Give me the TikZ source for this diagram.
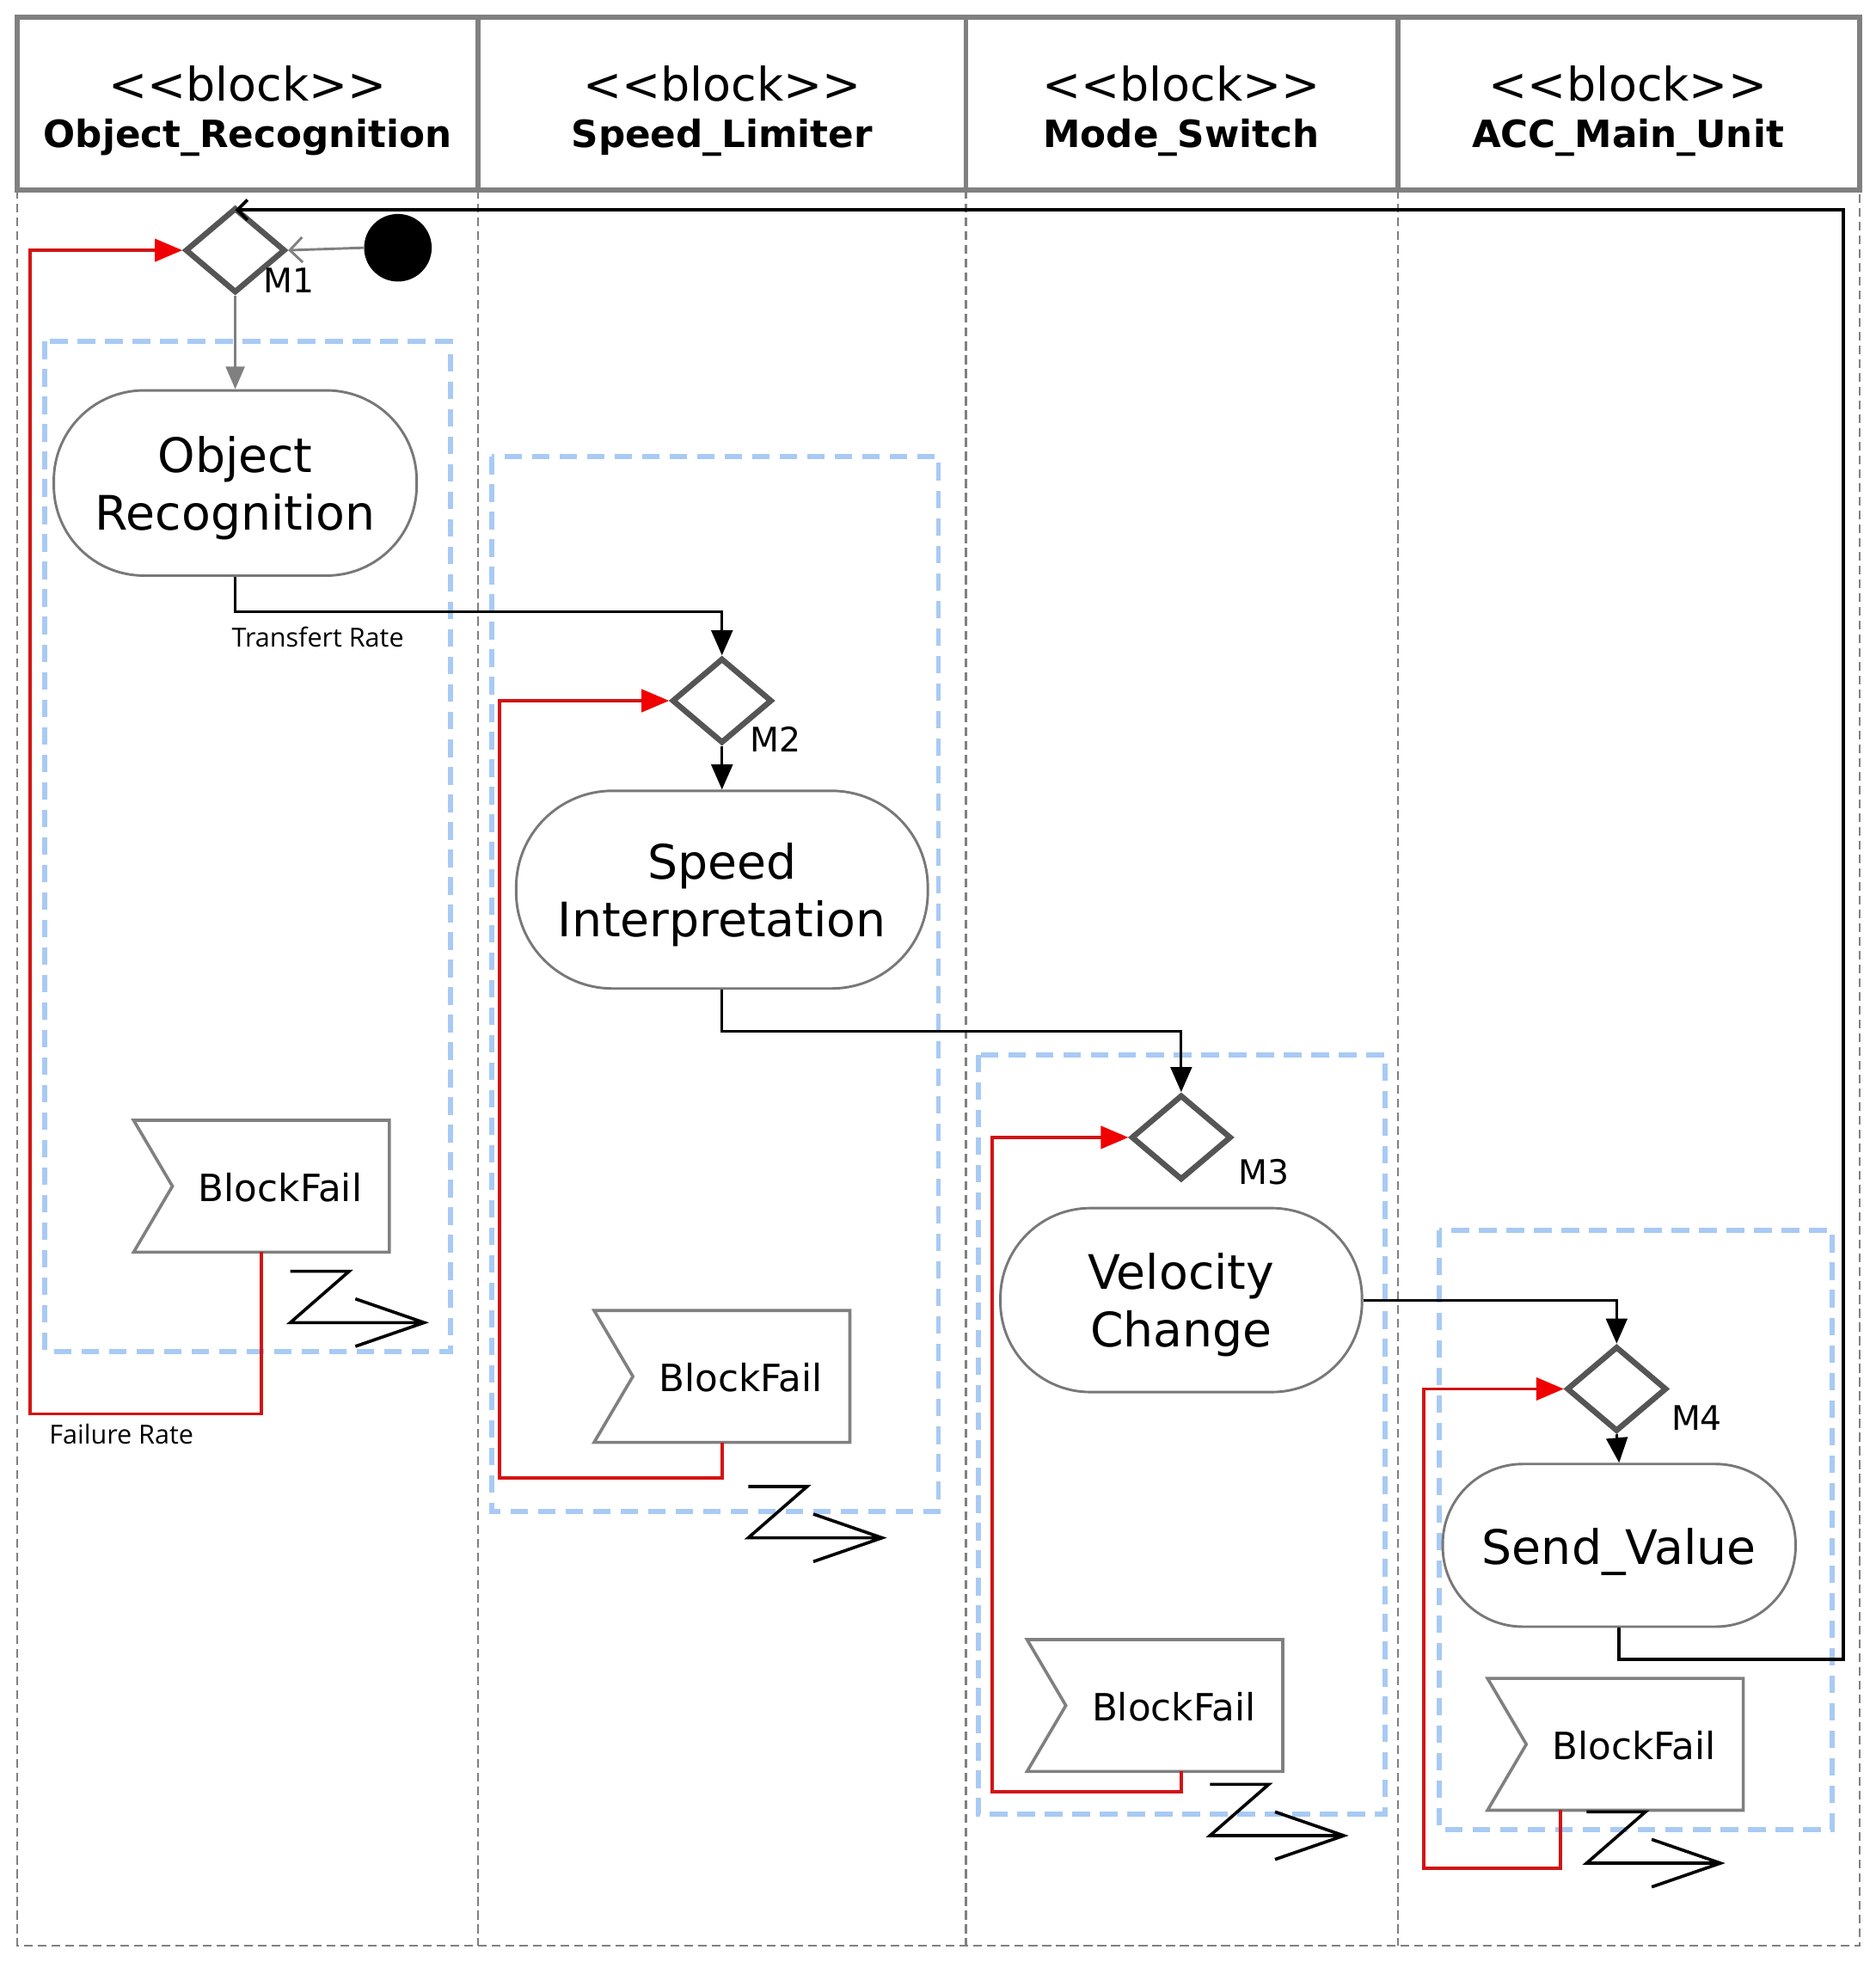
\documentclass[tikz,border=0pt]{standalone}
\usepackage{fontspec}
\setmainfont{DejaVu Sans}
\newfontfamily\lblfont{Open Sans}
\newfontfamily\stereofont{DejaVu Sans}
\usetikzlibrary{shapes.geometric,shapes.misc,arrows.meta,calc}
\definecolor{framegray}{RGB}{128,128,128}
\definecolor{diagray}{RGB}{85,85,85}
\definecolor{nodegray}{RGB}{120,120,120}
\definecolor{bluegrp}{RGB}{168,202,244}
\definecolor{failred}{RGB}{210,20,20}
\definecolor{tipred}{RGB}{240,0,0}
\newcommand{\twoline}[2]{\raisebox{-5pt}[\height][\depth]{\begin{tabular}{@{}c@{}}#1\\[-1pt]#2\end{tabular}}}
\newcommand{\lowered}[1]{\raisebox{-5pt}[\height][\depth]{#1}}
\tikzset{
  hdr/.style={draw=framegray, line width=4pt},
  laneline/.style={draw=framegray, line width=1.5pt, dash pattern=on 7pt off 4pt},
  grp/.style={draw=bluegrp, line width=4pt, dash pattern=on 14pt off 8pt},
  stereo/.style={font=\stereofont\fontsize{37}{40}\selectfont},
  bname/.style={font=\bfseries\fontsize{30}{34}\selectfont},
  act/.style={rectangle, rounded corners=#1, draw=nodegray, line width=2pt, fill=white, align=center, inner sep=0pt, font=\fontsize{38}{47}\selectfont},
  merge/.style={diamond, draw=diagray, line width=4.5pt, fill=white, minimum width=80pt, minimum height=68pt, inner sep=0pt},
  mlab/.style={font=\fontsize{27}{30}\selectfont},
  evbox/.style={rectangle, minimum width=204pt, minimum height=105pt, inner sep=0pt},
  evshape/.style={draw=framegray, line width=2.5pt, fill=white},
  evtext/.style={font=\fontsize{30}{33}\selectfont},
  smalllbl/.style={font=\lblfont\fontsize{21}{24}\selectfont},
  blk/.style={draw=black, line width=2pt, -{Triangle[length=20pt,width=17pt]}},
  gryarr/.style={draw=framegray, line width=2pt, -{Triangle[length=18pt,width=15pt]}},
  initarr/.style={draw=framegray, line width=2pt, -{Straight Barb[length=10pt,width=20pt]}},
  retline/.style={draw=black, line width=3pt, -{Straight Barb[length=8pt,width=16pt,line width=2.5pt]}},
  redline/.style={draw=failred, line width=2.5pt, -{Triangle[length=22pt,width=18pt,color=tipred]}},
  pics/zbolt/.style={code={\draw[line width=2.5pt, line join=miter] (0,0) -- (47,0) -- (0,41) -- (107,41) (52,22) -- (107,41) -- (52,60);}}
}
\begin{document}
\begin{tikzpicture}[x=1pt,y=-1pt]
\useasboundingbox (0,0) rectangle (1499,1568);
% swimlane frame
\draw[laneline] (14,152) -- (14,1555) -- (1486,1555) -- (1486,152);
\draw[laneline] (382,152) -- (382,1555);
\draw[laneline] (772,152) -- (772,1555);
\draw[laneline] (1117,152) -- (1117,1555);
\draw[hdr] (14,14) rectangle (1486,152);
\draw[hdr] (382,14) -- (382,152);
\draw[hdr] (772,14) -- (772,152);
\draw[hdr] (1117,14) -- (1117,152);
% headers
\node[stereo] (h1s) at (198,67) {<\kern0pt<block>\kern0pt>};
\node[bname] (h1n) at (198,110) {Object\_Recognition};
\node[stereo] (h2s) at (577,67) {<\kern0pt<block>\kern0pt>};
\node[bname] (h2n) at (577,110) {Speed\_Limiter};
\node[stereo] (h3s) at (944,67) {<\kern0pt<block>\kern0pt>};
\node[bname] (h3n) at (944,110) {Mode\_Switch};
\node[stereo] (h4s) at (1301,67) {<\kern0pt<block>\kern0pt>};
\node[bname] (h4n) at (1301,110) {ACC\_Main\_Unit};
% groups
\draw[grp] (36,273) rectangle (360,1080);
\draw[grp] (393,365) rectangle (750,1208);
\draw[grp] (782,843) rectangle (1107,1450);
\draw[grp] (1150,983) rectangle (1464,1462);
% merge nodes
\node[merge] (M1) at (188,200) {};
\node[merge] (M2) at (577,560) {};
\node[merge] (M3) at (944,909) {};
\node[merge] (M4) at (1292,1110) {};
\node[mlab] (M1l) at (231,224) {M1};
\node[mlab] (M2l) at (620,591) {M2};
\node[mlab] (M3l) at (1010,937) {M3};
\node[mlab] (M4l) at (1356,1133) {M4};
\node[circle, fill=black, minimum size=54pt, inner sep=0pt] (init) at (318,198) {};
% actions
\node[act=72pt, minimum width=290pt, minimum height=148pt] (OR) at (188,386) {\twoline{Object}{Recognition}};
\node[act=77pt, minimum width=329pt, minimum height=158pt] (SI) at (577,711) {\twoline{Speed}{Interpretation}};
\node[act=72pt, minimum width=289pt, minimum height=147pt] (VC) at (944,1039) {\twoline{Velocity}{Change}};
\node[act=64pt, minimum width=282pt, minimum height=130pt] (SV) at (1294,1235) {\lowered{Send\_Value}};
% accept event actions
\node[evbox] (bf1) at (209,948) {};
\node[evbox] (bf2) at (577,1100) {};
\node[evbox] (bf3) at (923,1363) {};
\node[evbox] (bf4) at (1291,1394) {};
\foreach \b in {bf1,bf2,bf3,bf4}{
  \draw[evshape] (\b.north west) -- (\b.north east) -- (\b.south east) -- (\b.south west) -- ($(\b.west)+(31,0)$) -- cycle;
}
\node[evtext] (bf1t) at ($(bf1.center)+(15,1)$) {BlockFail};
\node[evtext] (bf2t) at ($(bf2.center)+(15,1)$) {BlockFail};
\node[evtext] (bf3t) at ($(bf3.center)+(15,1)$) {BlockFail};
\node[evtext] (bf4t) at ($(bf4.center)+(15,1)$) {BlockFail};
% time/interrupt bolts
\pic at (232,1016) {zbolt};
\pic at (598,1188) {zbolt};
\pic at (967,1426) {zbolt};
\pic at (1268,1448) {zbolt};
% flows
\draw[initarr] (init.west) -- (M1.east);
\draw[gryarr] (M1.south) -- (OR.north);
\draw[blk] (OR.south) -- ++(0,28) -| (M2.north);
\draw[blk] (M2.south) -- (SI.north);
\draw[blk] (SI.south) -- ++(0,33) -| (M3.north);
\draw[blk] (VC.east) -| (M4.north);
\draw[blk] (M4.south) -- (SV.north);
\coordinate (ret) at (1473,1326);
\draw[retline] (SV.south) |- (ret) |- ([yshift=-4pt]M1.north);
% failure loops
\coordinate (r1) at (24,1130);
\coordinate (r2) at (399,1181);
\coordinate (r3) at (793,1432);
\coordinate (r4) at (1138,1493);
\draw[redline] (bf1.south) |- (r1) |- (M1.west);
\draw[redline] (bf2.south) |- (r2) |- (M2.west);
\draw[redline] (bf3.south -| M3.south) |- (r3) |- (M3.west);
\draw[redline] ($(bf4.south)+(-44,0)$) |- (r4) |- (M4.west);
% labels
\node[smalllbl] (tr) at (254,509) {Transfert Rate};
\node[smalllbl] (fr) at (97,1146) {Failure Rate};
\end{tikzpicture}
\end{document}
